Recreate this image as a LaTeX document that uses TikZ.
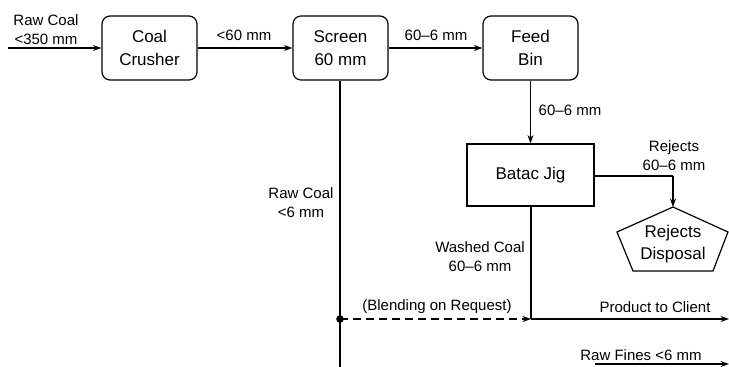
\documentclass[tikz,border=0pt]{standalone}
\usepackage{fontspec}
\setmainfont{Liberation Sans}
\usetikzlibrary{arrows.meta}
\begin{document}
\begin{tikzpicture}[x=1pt,y=-1pt,
  line width=1.2pt,
  arr/.style={-{Stealth[length=8.5pt,width=6pt]}},
  procbox/.style={draw,rounded corners=8pt,minimum width=95pt,minimum height=64pt,
     align=center,font=\fontsize{17}{23}\selectfont,inner sep=0pt},
  jigbox/.style={draw,minimum width=127pt,minimum height=62pt,
     align=center,font=\fontsize{17}{23}\selectfont,inner sep=0pt},
  lbl/.style={align=center,font=\fontsize{15}{19}\selectfont,inner sep=0pt}]
\useasboundingbox (0,0) rectangle (729,367);
% boxes
\node[procbox] (crusher) at (149.5,48) {Coal\\Crusher};
\node[procbox] (screen) at (340.5,48) {Screen\\60 mm};
\node[procbox] (feed) at (530.5,48) {Feed\\Bin};
\node[jigbox] (jig) at (530.5,175) {Batac Jig};
% pentagon
\coordinate (rtop) at (673,207);
\draw (rtop) -- (728,232) -- (713,271) -- (633,271) -- (617,232) -- cycle;
\node[lbl,font=\fontsize{17}{22}\selectfont] (rdisp) at (673,244) {Rejects\\Disposal};
% coordinates
\coordinate (in) at (8,48);
\coordinate (sbot) at (340,367);
\coordinate (blend) at (340,319);
\coordinate (wj) at (531,319);
\coordinate (prod) at (729,319);
\coordinate (fs) at (595,364);
\coordinate (fe) at (729,364);
\coordinate (rcorner) at (673,176);
% connectors
\draw[arr] (in) -- (crusher.west);
\draw[arr] (crusher.east) -- (screen.west);
\draw[arr] (screen.east) -- (feed.west);
\draw[arr] (feed.south) -- (jig.north);
\draw (jig.east |- rcorner) -- (rcorner);
\draw[arr] (rcorner) -- (rtop);
\draw (screen.south -| sbot) -- (sbot);
\fill (blend) circle (3.8pt);
\draw (jig.south -| wj) -- (wj);
\draw[arr,dash pattern=on 8pt off 5pt] (blend) -- (wj);
\draw[arr] (wj) -- (prod);
\draw[arr] (fs) -- (fe);
% labels
\node[lbl] (l1) at (46,30) {Raw Coal\\<350 mm};
\node[lbl] (l2) at (244,35) {<60 mm};
\node[lbl] (l3) at (436,35) {60–6 mm};
\node[lbl] (l4) at (570,110) {60–6 mm};
\node[lbl] (l5) at (674,155.5) {Rejects\\60–6 mm};
\node[lbl] (l6) at (301,202.5) {Raw Coal\\<6 mm};
\node[lbl] (l7) at (480,256.5) {Washed Coal\\60–6 mm};
\node[lbl] (l8) at (437,307) {(Blending on Request)};
\node[lbl] (l9) at (655,307) {Product to Client};
\node[lbl] (l10) at (641,355) {Raw Fines <6 mm};
\end{tikzpicture}
\end{document}
